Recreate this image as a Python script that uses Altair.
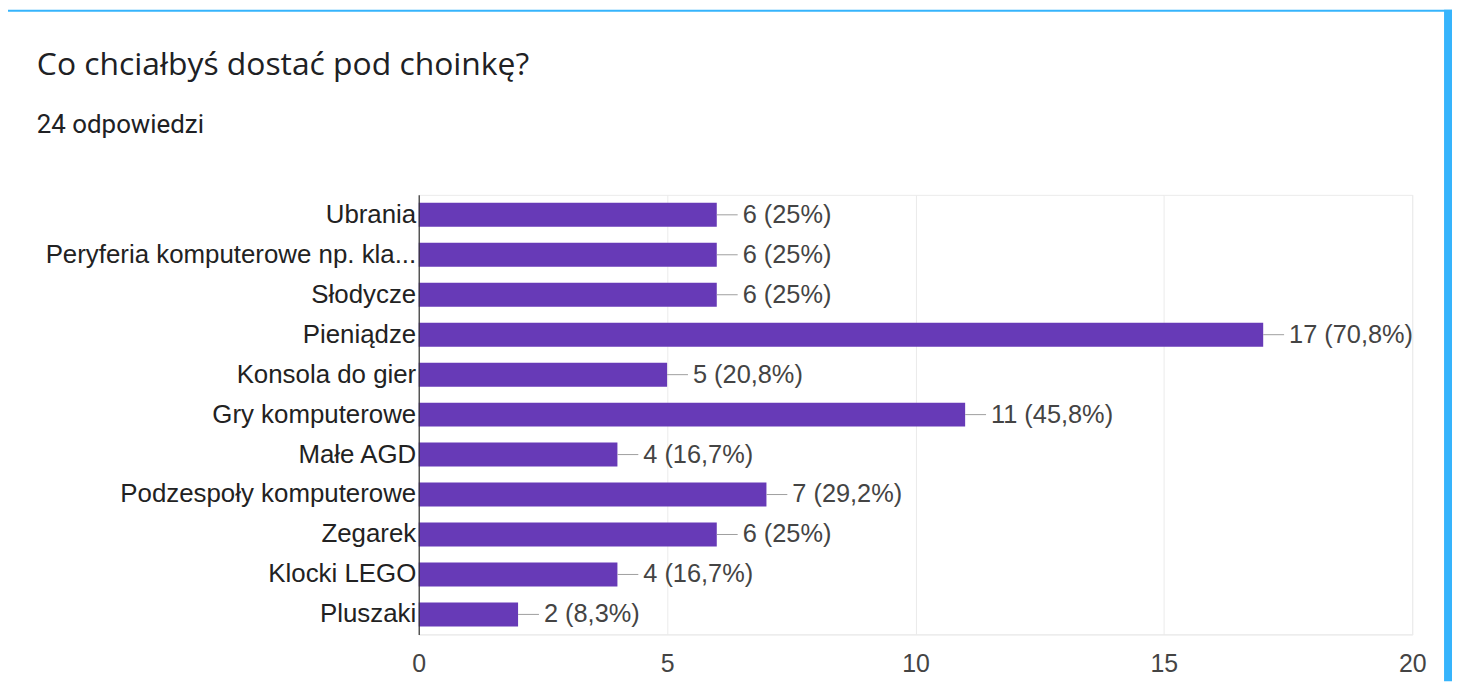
import altair as alt
import pandas as pd

# ---- data ----
categories = [
    "Ubrania",
    "Peryferia komputerowe np. kla...",
    "Słodycze",
    "Pieniądze",
    "Konsola do gier",
    "Gry komputerowe",
    "Małe AGD",
    "Podzespoły komputerowe",
    "Zegarek",
    "Klocki LEGO",
    "Pluszaki",
]
counts = [6, 6, 6, 17, 5, 11, 4, 7, 6, 4, 2]
total_responses = 24
x_ticks = [0, 5, 10, 15, 20]
title_text = "Co chciałbyś dostać pod choinkę?"
subtitle_text = "24 odpowiedzi"


def pct(c):
    p = round(c / total_responses * 100, 1)
    s = f"{p:.1f}".rstrip("0").rstrip(".")
    return s.replace(".", ",")


labels = [f"{c} ({pct(c)}%)" for c in counts]

df = pd.DataFrame({"cat": categories, "n": counts, "label": labels})

# ---- layout ----
W, H = 999, 442
PAD_L, PAD_T, PAD_R, PAD_B = 413, 186, 40, 47
BLUE = "#36b4fc"
PURPLE = "#673ab7"
FONT = "Liberation Sans"

y_scale = alt.Scale(paddingInner=0.4, paddingOuter=0.2)
x_scale = alt.Scale(domain=[0, 20], nice=False)

y_enc = alt.Y(
    "cat:N",
    sort=categories,
    title=None,
    scale=y_scale,
    axis=alt.Axis(
        labelFont=FONT,
        labelFontSize=26,
        labelColor="#222222",
        labelPadding=3,
        ticks=False,
        domainColor="#333333",
        domainWidth=1.2,
        labelLimit=600,
        grid=False,
        zindex=1,
    ),
)
x_enc = alt.X(
    "n:Q",
    title=None,
    scale=x_scale,
    axis=alt.Axis(
        values=x_ticks,
        labelFont=FONT,
        labelFontSize=25,
        labelColor="#444444",
        labelPadding=17,
        ticks=False,
        domainColor="#ebebeb",
        gridColor="#ebebeb",
        labelFlush=False,
    ),
)

bars = alt.Chart(df).mark_bar(color=PURPLE).encode(x=x_enc, y=y_enc)

connectors = alt.Chart(df).mark_rule(color="#9e9e9e", strokeWidth=1, x2Offset=21).encode(
    x="n:Q", x2=alt.X2("n:Q"), y=alt.Y("cat:N", sort=categories)
)

values = alt.Chart(df).mark_text(
    align="left", baseline="middle", dx=26, font=FONT, fontSize=25.5, color="#444444"
).encode(x="n:Q", y=alt.Y("cat:N", sort=categories), text="label:N")

deco_df = pd.DataFrame({"d": [0]})
top_strip = alt.Chart(deco_df).mark_rect(color=BLUE).encode(
    x=alt.value(-PAD_L), x2=alt.value(W + PAD_R), y=alt.value(-PAD_T), y2=alt.value(-PAD_T + 2)
)
right_strip = alt.Chart(deco_df).mark_rect(color=BLUE).encode(
    x=alt.value(W + PAD_R - 8), x2=alt.value(W + PAD_R), y=alt.value(-PAD_T), y2=alt.value(H + PAD_B)
)

title_df = pd.DataFrame({"t": [title_text]})
title = alt.Chart(title_df).mark_text(
    align="left", baseline="alphabetic", font="Open Sans", fontSize=32, color="#202124"
).encode(x=alt.value(-384), y=alt.value(-121), text="t:N")

sub_df = pd.DataFrame({"t": [subtitle_text]})
subtitle = alt.Chart(sub_df).mark_text(
    align="left", baseline="alphabetic", font="Roboto", fontSize=26, color="#202124"
).encode(x=alt.value(-384), y=alt.value(-62), text="t:N")

chart = (
    alt.layer(top_strip, right_strip, bars, connectors, values, title, subtitle)
    .properties(
        width=W,
        height=H,
        padding={"left": PAD_L, "top": PAD_T, "right": PAD_R, "bottom": PAD_B},
        autosize=alt.AutoSizeParams(type="none"),
        background="white",
    )
    .configure_view(stroke="#ebebeb")
)

chart.save("out.html", embed_options={"renderer": "svg", "actions": False})
